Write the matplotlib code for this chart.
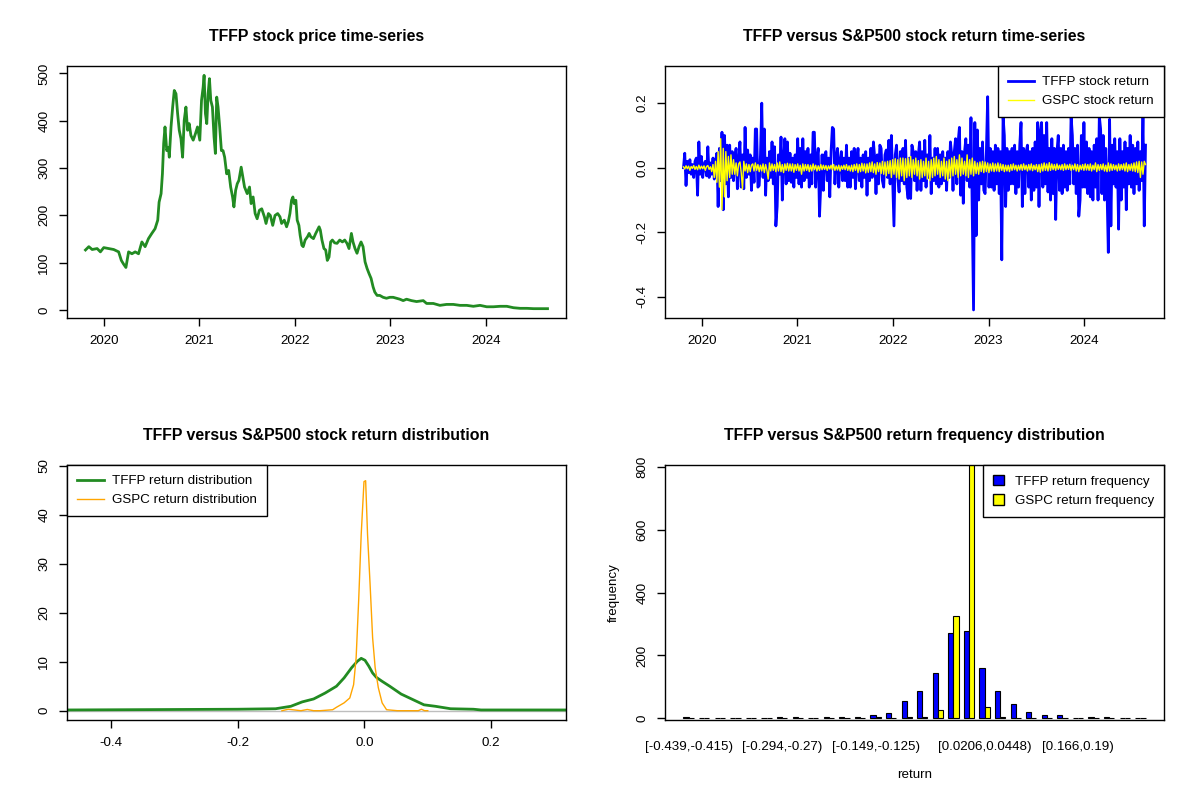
import numpy as np
import matplotlib.pyplot as plt
from matplotlib.patches import Patch
from matplotlib.lines import Line2D

plt.rcParams['font.family'] = ['Liberation Sans', 'DejaVu Sans']
plt.rcParams['font.size'] = 9.6
plt.rcParams['axes.linewidth'] = 1.0

# ---- TFFP price (decimal year, price) ----
price_t = [2019.809, 2019.844, 2019.879, 2019.931, 2019.965, 2020.0, 2020.052, 2020.104, 2020.156, 2020.184,
           2020.208, 2020.232, 2020.260, 2020.295, 2020.329, 2020.364, 2020.399, 2020.433, 2020.468, 2020.503,
           2020.537, 2020.565, 2020.579, 2020.600, 2020.614, 2020.627, 2020.641, 2020.659, 2020.676, 2020.686,
           2020.704, 2020.721, 2020.738, 2020.756, 2020.773, 2020.790, 2020.808, 2020.825, 2020.842, 2020.860,
           2020.877, 2020.894, 2020.912, 2020.936, 2020.960, 2020.981, 2021.005, 2021.023, 2021.040, 2021.050,
           2021.064, 2021.078, 2021.092, 2021.106, 2021.120, 2021.137, 2021.154, 2021.168, 2021.182, 2021.196,
           2021.213, 2021.231, 2021.248, 2021.265, 2021.286, 2021.307, 2021.328, 2021.348, 2021.362, 2021.380,
           2021.397, 2021.414, 2021.438, 2021.456, 2021.473, 2021.501, 2021.525, 2021.542, 2021.563, 2021.584,
           2021.605, 2021.629, 2021.653, 2021.681, 2021.698, 2021.723, 2021.743, 2021.768, 2021.792, 2021.820,
           2021.844, 2021.861, 2021.889, 2021.913, 2021.931, 2021.948, 2021.965, 2021.979, 2021.993, 2022.010,
           2022.024, 2022.042, 2022.055, 2022.073, 2022.087, 2022.107, 2022.132, 2022.149, 2022.166, 2022.194,
           2022.218, 2022.253, 2022.266, 2022.283, 2022.304, 2022.322, 2022.339, 2022.357, 2022.374, 2022.392,
           2022.416, 2022.441, 2022.469, 2022.497, 2022.521, 2022.545, 2022.566, 2022.591, 2022.608, 2022.629,
           2022.650, 2022.671, 2022.692, 2022.713, 2022.734, 2022.755, 2022.776, 2022.797, 2022.818, 2022.836,
           2022.860, 2022.888, 2022.923, 2022.958, 2022.993, 2023.028, 2023.063, 2023.098, 2023.133, 2023.168,
           2023.220, 2023.273, 2023.343, 2023.378, 2023.448, 2023.517, 2023.587, 2023.657, 2023.727, 2023.797,
           2023.867, 2023.937, 2024.007, 2024.077, 2024.147, 2024.217, 2024.287, 2024.357, 2024.427, 2024.497,
           2024.566, 2024.643]
price = [127, 134, 128, 130, 123, 132, 130, 128, 123, 105,
         97, 90, 123, 119, 123, 119, 144, 134, 151, 162,
         172, 190, 228, 246, 288, 352, 387, 337, 344, 323,
         387, 429, 464, 457, 415, 380, 362, 323, 401, 429,
         380, 394, 369, 359, 373, 387, 359, 443, 471, 496,
         415, 394, 457, 489, 443, 429, 366, 331, 450, 429,
         387, 337, 337, 323, 288, 295, 260, 239, 218, 253,
         267, 274, 302, 281, 260, 246, 260, 225, 239, 204,
         193, 211, 214, 197, 183, 204, 200, 179, 200, 204,
         197, 183, 190, 176, 187, 204, 232, 239, 225, 232,
         190, 179, 158, 137, 134, 148, 155, 162, 155, 151,
         162, 176, 169, 148, 130, 127, 105, 112, 144, 148,
         142, 141, 148, 144, 148, 141, 130, 162, 144, 130,
         120, 134, 144, 134, 102, 88, 77, 67, 49, 38,
         31, 31, 27, 25, 27, 27, 25, 23, 20, 23,
         20, 18, 20, 14, 14, 10, 12, 12, 10, 10,
         8, 10, 7, 7, 8, 8, 5, 3.7, 3.7, 3,
         3, 3]

ret_start, ret_end = 2019.81, 2024.64
tffp_ret = [0.0, 0.045, -0.055, 0.02, -0.015, 0.025, -0.02, 0.01, -0.03, 0.02, 0.03, -0.085,
            0.08, -0.02, 0.035, -0.03, 0.01, 0.02, -0.025, 0.065, -0.03, 0.015, -0.02, 0.03,
            -0.035, 0.02, 0.045, -0.12, 0.06, -0.04, 0.11, -0.13, 0.1, -0.05, 0.07, -0.09,
            0.07, -0.03, 0.05, -0.04, 0.03, 0.06, -0.065, 0.02, 0.08, -0.06, 0.04, -0.065,
            0.125, -0.03, 0.055, -0.02, 0.04, -0.07, 0.03, -0.045, 0.12, 0.12, -0.06, -0.055,
            0.04, 0.2, -0.03, 0.12, -0.085, 0.03, -0.04, 0.05, -0.03, 0.08, -0.05, 0.065,
            -0.18, -0.12, 0.04, -0.02, 0.095, -0.1, 0.03, 0.09, -0.05, 0.08, -0.04, 0.045,
            -0.045, 0.03, -0.06, 0.04, -0.03, 0.09, -0.05, 0.06, -0.06, 0.09, -0.04, 0.05,
            -0.03, 0.06, -0.06, 0.04, -0.05, 0.11, 0.11, -0.06, 0.03, 0.06, -0.15, -0.05,
            0.04, -0.07, 0.04, 0.05, -0.04, 0.03, -0.09, 0.05, 0.125, 0.12, -0.05, 0.03,
            0.06, -0.06, 0.02, 0.05, -0.04, 0.03, -0.04, 0.07, -0.06, 0.03, -0.06, 0.05,
            -0.03, 0.06, -0.065, 0.02, 0.06, -0.04, 0.03, -0.06, 0.04, -0.03, 0.05, -0.085,
            0.03, -0.04, 0.06, -0.03, 0.08, 0.03, -0.08, 0.04, -0.05, 0.07, 0.06, -0.04,
            -0.06, 0.04, 0.055, -0.03, 0.085, -0.05, 0.1, -0.04, -0.18, 0.04, 0.07, -0.03,
            -0.075, 0.05, -0.04, 0.06, -0.05, 0.085, -0.06, -0.095, 0.03, -0.095, 0.07, 0.05,
            -0.04, 0.05, -0.07, 0.04, 0.08, -0.07, 0.05, -0.04, 0.085, -0.06, 0.04, -0.03,
            0.1, -0.08, 0.03, -0.04, 0.06, -0.05, 0.06, -0.06, 0.04, -0.05, 0.05, -0.04,
            0.03, -0.07, 0.05, -0.03, 0.08, 0.04, -0.07, 0.05, 0.09, -0.05, 0.08, 0.125,
            -0.085, 0.05, -0.11, 0.05, 0.09, -0.04, 0.07, -0.06, 0.155, -0.145, -0.44, 0.14,
            -0.21, 0.117, -0.1, 0.06, -0.05, 0.08, -0.07, -0.08, 0.05, 0.22, -0.06, 0.06,
            -0.06, 0.05, -0.07, 0.07, -0.05, 0.06, -0.08, 0.05, -0.285, 0.16, 0.1, -0.12,
            0.06, -0.07, 0.05, -0.05, 0.06, -0.05, 0.07, -0.08, 0.05, -0.06, 0.07, 0.14,
            -0.12, 0.06, -0.08, 0.05, 0.07, -0.06, 0.05, -0.1, 0.06, -0.07, 0.08, -0.06,
            0.14, -0.12, 0.11, 0.14, -0.06, 0.1, -0.05, 0.14, -0.075, 0.06, -0.1, 0.09,
            -0.08, 0.06, -0.16, 0.05, 0.1, -0.07, 0.06, -0.08, 0.07, -0.06, 0.05, -0.07,
            0.06, -0.05, 0.16, 0.1, -0.05, 0.06, -0.08, 0.07, -0.15, -0.1, 0.1, -0.06,
            0.14, -0.06, 0.08, -0.08, 0.06, -0.09, 0.05, -0.1, 0.07, -0.06, 0.09, -0.1,
            0.16, 0.12, -0.08, 0.1, -0.1, 0.06, -0.07, -0.262, 0.15, -0.18, 0.07, -0.05,
            0.09, -0.06, 0.05, -0.19, 0.09, -0.1, 0.05, -0.06, 0.08, -0.13, 0.06, -0.05,
            0.1, -0.06, 0.07, -0.08, 0.06, -0.05, 0.08, -0.07, 0.05, -0.04, 0.16, -0.18,
            0.07]
gspc_ret = [0.003, -0.004, 0.006, -0.003, 0.005, -0.008, 0.004, -0.002, 0.007, -0.005, 0.004, -0.006,
            0.008, -0.004, 0.005, -0.003, 0.006, -0.008, 0.004, 0.007, -0.005, 0.003, -0.012, 0.01,
            -0.03, 0.02, -0.045, 0.05, -0.06, 0.09, -0.13, 0.06, -0.09, 0.05, -0.04, 0.035,
            -0.03, 0.04, -0.02, 0.025, -0.02, 0.015, -0.025, 0.012, 0.018, -0.015, -0.065, 0.02,
            -0.01, 0.012, -0.015, 0.01, -0.012, 0.008, 0.012, -0.01, 0.015, -0.008, 0.01, -0.012,
            0.008, -0.01, 0.012, -0.015, 0.01, -0.008, -0.035, 0.015, -0.01, 0.012, -0.008, 0.01,
            -0.012, 0.015, -0.01, 0.018, -0.012, 0.01, -0.015, 0.012, -0.008, 0.014, -0.01, 0.012,
            -0.01, 0.012, -0.014, 0.01, -0.008, 0.012, -0.01, 0.008, -0.02, 0.012, -0.01, 0.01,
            -0.008, 0.01, -0.012, 0.008, -0.01, 0.012, -0.006, 0.008, -0.01, 0.006, -0.008, 0.01,
            -0.006, 0.008, -0.005, 0.007, -0.008, 0.006, -0.004, 0.008, -0.006, 0.01, -0.008, 0.006,
            -0.007, 0.008, -0.01, 0.006, -0.005, 0.008, -0.006, 0.01, -0.008, 0.006, -0.01, 0.008,
            -0.012, 0.01, -0.008, 0.012, -0.015, 0.01, -0.012, 0.014, -0.01, 0.012, -0.016, 0.012,
            -0.014, 0.015, -0.012, 0.018, -0.015, 0.012, -0.02, 0.016, -0.012, 0.015, -0.018, 0.02,
            -0.02, 0.018, -0.025, 0.02, -0.018, 0.022, -0.03, 0.025, -0.02, 0.028, -0.03, 0.025,
            -0.035, 0.03, -0.025, 0.03, -0.04, 0.028, -0.03, 0.03, -0.025, 0.035, -0.03, 0.025,
            -0.02, 0.03, -0.025, 0.022, -0.035, 0.025, -0.03, 0.02, -0.025, 0.03, -0.035, 0.02,
            -0.04, 0.025, -0.03, 0.03, -0.025, 0.035, -0.02, 0.025, -0.03, 0.02, -0.025, 0.03,
            -0.035, 0.02, -0.04, 0.025, -0.03, 0.03, -0.025, 0.035, -0.02, 0.025, -0.03, 0.04,
            -0.025, 0.03, -0.02, 0.02, -0.025, 0.04, -0.03, 0.025, -0.02, 0.03, -0.025, 0.02,
            -0.018, 0.015, -0.02, 0.018, -0.012, 0.02, -0.015, 0.018, -0.012, 0.015, -0.015, 0.012,
            -0.01, 0.015, -0.012, 0.012, -0.01, 0.015, -0.012, 0.012, -0.008, 0.01, -0.012, 0.008,
            -0.01, 0.008, -0.012, 0.01, -0.008, 0.012, -0.006, 0.008, -0.01, 0.008, -0.007, 0.01,
            -0.008, 0.012, -0.006, 0.008, -0.01, 0.01, -0.007, 0.012, -0.009, 0.008, -0.006, 0.01,
            -0.012, 0.01, -0.014, 0.012, -0.01, 0.015, -0.008, 0.012, -0.01, 0.016, -0.008, 0.012,
            -0.006, 0.01, -0.008, 0.012, -0.005, 0.008, -0.006, 0.01, -0.008, 0.012, -0.006, 0.009,
            -0.005, 0.011, -0.008, 0.008, -0.006, 0.012, -0.01, 0.01, -0.012, 0.008, -0.006, 0.01,
            -0.008, 0.012, -0.007, 0.01, -0.008, 0.012, -0.01, 0.008, -0.006, 0.015, -0.012, 0.01,
            -0.008, 0.01, -0.006, 0.012, -0.01, 0.008, -0.012, 0.015, -0.01, 0.012, -0.008, 0.01,
            -0.006, 0.008, -0.01, 0.012, -0.008, 0.01, -0.006, 0.012, -0.01, 0.015, -0.012, 0.01,
            -0.008, 0.012, -0.01, 0.015, -0.012, 0.018, -0.015, 0.02, -0.03, 0.018, -0.02, 0.02,
            0.01]

# ---- density curves ----
dens_tffp_x = [-0.469, -0.2, -0.14, -0.116, -0.098, -0.08, -0.062, -0.044, -0.032, -0.02, -0.011, -0.005,
               0.001, 0.007, 0.013, 0.019, 0.028, 0.04, 0.058, 0.076, 0.094, 0.112, 0.136, 0.172, 0.184, 0.318]
dens_tffp = [0.15, 0.3, 0.4, 0.9, 1.8, 2.4, 3.6, 5.0, 6.7, 8.8, 10.1, 10.7,
             10.3, 9.1, 7.7, 6.8, 6.0, 5.0, 3.4, 2.3, 1.2, 0.9, 0.4, 0.3, 0.15, 0.15]
dens_gspc_x = [-0.13, -0.12, -0.10, -0.09, -0.08, -0.07, -0.05, -0.044, -0.032, -0.023, -0.017, -0.013, -0.009,
               -0.005, -0.0006, 0.002, 0.005, 0.009, 0.013, 0.017, 0.022, 0.028, 0.035, 0.052, 0.085, 0.09, 0.095, 0.1]
dens_gspc = [0, 0.3, 0, 0.25, 0, 0, 0.2, 0.7, 1.6, 2.6, 5.3, 10.8, 22.5,
             36, 46.8, 47, 36, 25.9, 14.9, 8.8, 4.7, 1.6, 0.2, 0, 0, 0.3, 0, 0]

# ---- return frequency (30 bins) ----
tffp_freq = [3, 1, 1, 1, 1, 1, 3, 3, 1, 3, 6, 4, 10, 18, 55, 87, 143, 272, 278, 160,
             88, 45, 22, 12, 10, 1, 3, 3, 1, 1]
gspc_freq = [0, 0, 0, 0, 0, 0, 0, 1, 0, 0, 0, 0, 3, 1, 3, 3, 28, 325, 815, 35,
             6, 2, 1, 0, 1, 0, 0, 0, 0, 0]
shown_bins = [0, 6, 12, 19, 25]
shown_labels = ['[-0.439,-0.415)', '[-0.294,-0.27)', '[-0.149,-0.125)', '[0.0206,0.0448)', '[0.166,0.19)']

fig = plt.figure(figsize=(12, 8), dpi=100)
L, R = 67 / 1200, 665 / 1200
W = 499 / 1200
TOP_B, TOP_H = 1 - 318 / 800, 252 / 800
BOT_B, BOT_H = 1 - 720 / 800, 255 / 800

ax1 = fig.add_axes([L, TOP_B, W, TOP_H])
ax2 = fig.add_axes([R, TOP_B, W, TOP_H])
ax3 = fig.add_axes([L, BOT_B, W, BOT_H])
ax4 = fig.add_axes([R, BOT_B, W, BOT_H])

TITLE_FS = 11.4


def rstyle(ax):
    ax.tick_params(direction='out', length=6, width=1, pad=6, labelsize=9.6)
    for lab in ax.get_yticklabels():
        lab.set_rotation(90)
        lab.set_va('center')


def rlegend(ax, handles, labels, loc, **kw):
    opts = dict(handlelength=2.0, handletextpad=0.6, borderpad=0.75, labelspacing=0.5)
    opts.update(kw)
    lg = ax.legend(handles, labels, loc=loc, borderaxespad=0, fancybox=False,
                   edgecolor='black', framealpha=1, fontsize=9.6, **opts)
    lg.get_frame().set_linewidth(1.0)
    return lg


# panel 1
ax1.plot(price_t, price, color='forestgreen', lw=2)
ax1.margins(x=0.04, y=0.04)
ax1.set_xticks([2020, 2021, 2022, 2023, 2024])
ax1.set_yticks([0, 100, 200, 300, 400, 500])
ax1.set_title('TFFP stock price time-series', fontweight='bold', fontsize=TITLE_FS, pad=18)
rstyle(ax1)

# panel 2
ret_t = np.linspace(ret_start, ret_end, len(tffp_ret))
ax2.plot(ret_t, tffp_ret, color='blue', lw=2)
ax2.plot(ret_t, gspc_ret, color='yellow', lw=1)
ax2.set_xlim(2019.617, 2024.833)
ax2.set_ylim(-0.465, 0.315)
ax2.set_xticks([2020, 2021, 2022, 2023, 2024])
ax2.set_yticks([-0.4, -0.2, 0.0, 0.2])
ax2.set_yticklabels(['-0.4', '-0.2', '0.0', '0.2'])
ax2.set_title('TFFP versus S&P500 stock return time-series', fontweight='bold', fontsize=TITLE_FS, pad=18)
rlegend(ax2, [Line2D([], [], color='blue', lw=2), Line2D([], [], color='yellow', lw=1)],
        ['TFFP stock return', 'GSPC stock return'], 'upper right')
rstyle(ax2)

# panel 3
ax3.axhline(0, color='#bebebe', lw=1)
ax3.plot(dens_tffp_x, dens_tffp, color='forestgreen', lw=2)
ax3.plot(dens_gspc_x, dens_gspc, color='orange', lw=1)
ax3.set_xlim(-0.469, 0.318)
ax3.set_ylim(-1.9, 50.2)
ax3.set_xticks([-0.4, -0.2, 0.0, 0.2])
ax3.set_xticklabels(['-0.4', '-0.2', '0.0', '0.2'])
ax3.set_yticks([0, 10, 20, 30, 40, 50])
ax3.set_title('TFFP versus S&P500 stock return distribution', fontweight='bold', fontsize=TITLE_FS, pad=18)
rlegend(ax3, [Line2D([], [], color='forestgreen', lw=2), Line2D([], [], color='orange', lw=1)],
        ['TFFP return distribution', 'GSPC return distribution'], 'upper left')
rstyle(ax3)

# panel 4
grp = np.arange(len(tffp_freq))
ax4.bar(1.5 + 3 * grp, tffp_freq, width=1, color='blue', edgecolor='black', lw=0.8)
ax4.bar(2.5 + 3 * grp, gspc_freq, width=1, color='yellow', edgecolor='black', lw=0.8)
ax4.set_xlim(1 - 3.56, 3 * len(tffp_freq) + 3.56)
ax4.set_ylim(-5, 805)
ax4.set_yticks([0, 200, 400, 600, 800])
ax4.set_xticks([2 + 3 * b for b in shown_bins])
ax4.set_xticklabels(shown_labels)
ax4.set_title('TFFP versus S&P500 return frequency distribution', fontweight='bold', fontsize=TITLE_FS, pad=18)
ax4.set_xlabel('return', fontsize=9.6, labelpad=12)
ax4.set_ylabel('frequency', fontsize=9.6, labelpad=12)
rlegend(ax4, [Patch(facecolor='blue', edgecolor='black'), Patch(facecolor='yellow', edgecolor='black')],
        ['TFFP return frequency', 'GSPC return frequency'], 'upper right',
        handlelength=0.8, handleheight=0.8, handletextpad=0.8)
rstyle(ax4)
ax4.tick_params(axis='x', length=0, pad=15)

fig.savefig('out.png', dpi=100)
